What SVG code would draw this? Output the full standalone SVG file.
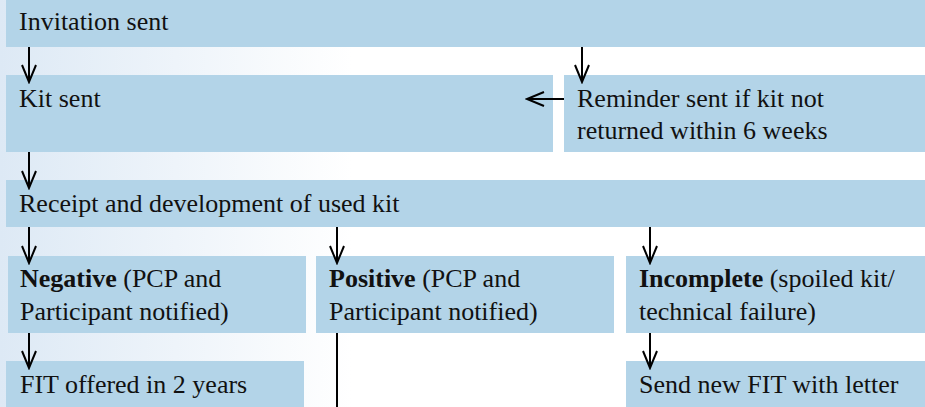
<svg xmlns="http://www.w3.org/2000/svg" width="925" height="407" viewBox="0 0 925 407">
<defs>
<linearGradient id="bg" x1="0" y1="0" x2="1" y2="0">
<stop offset="0" stop-color="#dde9f5"/>
<stop offset="0.38" stop-color="#ffffff"/>
</linearGradient>
<marker id="ah" markerUnits="userSpaceOnUse" markerWidth="20" markerHeight="18" viewBox="0 0 20 18" refX="18" refY="9" orient="auto">
<path d="M1,2 L18,9 L1,16" fill="none" stroke="#000" stroke-width="2"/>
</marker>
<style>
.box{fill:#b3d4e8;}
.t{font-family:'Liberation Serif','DejaVu Serif',serif;font-size:26px;fill:#111;}
.b{font-weight:bold;}
.c{stroke:#000;stroke-width:2;fill:none;}
</style>
</defs>
<rect x="0" y="0" width="925" height="407" fill="url(#bg)"/>
<g id="invitation"><rect class="box" x="6" y="0" width="919" height="47"/><text class="t" x="19" y="30">Invitation sent</text></g>
<g id="kit"><rect class="box" x="6" y="75" width="547" height="77"/><text class="t" x="19" y="107">Kit sent</text></g>
<g id="reminder"><rect class="box" x="564" y="75" width="361" height="77"/><text class="t" x="577" y="107">Reminder sent if kit not</text><text class="t" x="577" y="139">returned within 6 weeks</text></g>
<g id="receipt"><rect class="box" x="6" y="180" width="919" height="47"/><text class="t" x="19" y="212">Receipt and development of used kit</text></g>
<g id="negative"><rect class="box" x="8" y="256" width="298" height="77"/><text class="t" x="20" y="287"><tspan class="b">Negative</tspan> (PCP and</text><text class="t" x="20" y="320">Participant notified)</text></g>
<g id="positive"><rect class="box" x="316" y="256" width="298" height="77"/><text class="t" x="329" y="287"><tspan class="b">Positive</tspan> (PCP and</text><text class="t" x="329" y="320">Participant notified)</text></g>
<g id="incomplete"><rect class="box" x="626" y="256" width="299" height="77"/><text class="t" x="639" y="287"><tspan class="b">Incomplete</tspan> (spoiled kit/</text><text class="t" x="639" y="320">technical failure)</text></g>
<g id="fit"><rect class="box" x="6" y="361" width="298" height="46"/><text class="t" x="20" y="393">FIT offered in 2 years</text></g>
<g id="newfit"><rect class="box" x="626" y="361" width="299" height="46"/><text class="t" x="639" y="393">Send new FIT with letter</text></g>
<g id="connectors">
<line class="c" x1="29" y1="47" x2="29" y2="82" marker-end="url(#ah)"/>
<line class="c" x1="582" y1="47" x2="582" y2="82" marker-end="url(#ah)"/>
<line class="c" x1="564" y1="99" x2="527" y2="99" marker-end="url(#ah)"/>
<line class="c" x1="29" y1="152" x2="29" y2="188" marker-end="url(#ah)"/>
<line class="c" x1="29" y1="227" x2="29" y2="263" marker-end="url(#ah)"/>
<line class="c" x1="337" y1="227" x2="337" y2="263" marker-end="url(#ah)"/>
<line class="c" x1="650" y1="227" x2="650" y2="263" marker-end="url(#ah)"/>
<line class="c" x1="29" y1="333" x2="29" y2="368" marker-end="url(#ah)"/>
<line class="c" x1="650" y1="333" x2="650" y2="368" marker-end="url(#ah)"/>
<line class="c" x1="337" y1="333" x2="337" y2="407"/>
</g>
</svg>
